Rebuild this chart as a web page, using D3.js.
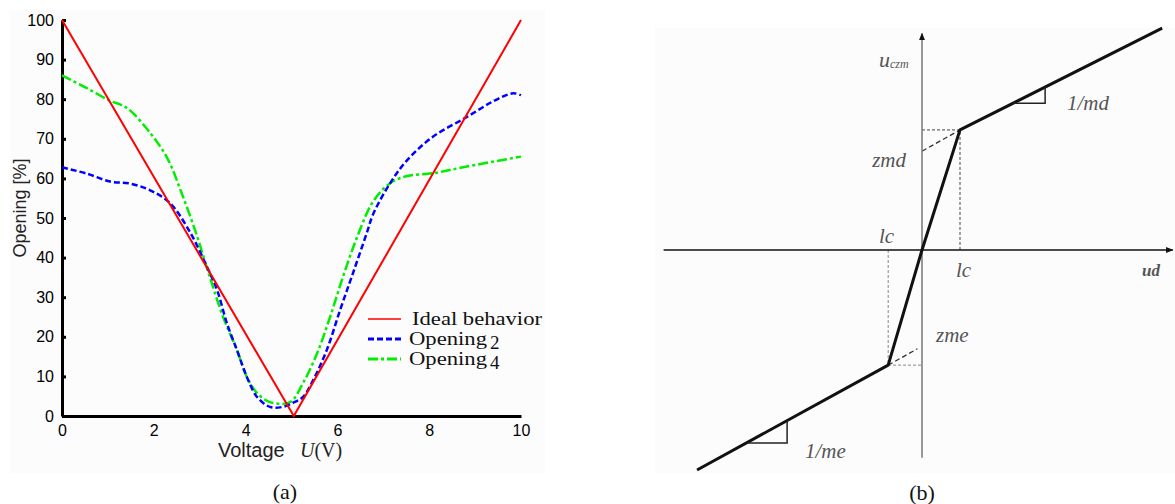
<!DOCTYPE html>
<html>
<head>
<meta charset="utf-8">
<script src="https://cdn.jsdelivr.net/npm/d3@7"></script>
<style>
  body { margin: 0; background: #fff; }
  svg { display: block; }
  .diag text { font-family: "Liberation Serif", "Times New Roman", serif; font-style: italic; fill: #555; }
</style>
</head>
<body>
<script>
// ---- panel (a) data ----
var xTicks = [0, 2, 4, 6, 8, 10];
var yTicks = [0, 10, 20, 30, 40, 50, 60, 70, 80, 90, 100];
var seriesNames = ["Ideal behavior", "Opening", "Opening"];
var seriesSubs = ["", "2", "4"];

var ideal = [[0, 100], [5.05, 0], [10, 100]];

var opening2 = [[0, 62.8], [0.54, 61.2], [1.05, 59.2], [1.48, 58.7], [1.92, 57], [2.35, 53.8],
  [2.79, 46.4], [3.16, 37.6], [3.38, 31.8], [3.59, 23.5], [3.81, 16.7], [4.03, 9.8],
  [4.25, 4.8], [4.53, 2.3], [4.81, 2.3], [5.03, 3.3], [5.25, 4.8], [5.47, 9], [5.77, 16.7],
  [6.06, 26.8], [6.34, 36.1], [6.64, 46.2], [6.78, 51], [7.15, 58.8], [7.52, 64.6],
  [8.08, 70.5], [8.82, 75.5], [9.4, 79.5], [9.83, 81.5], [10, 81]];

var opening4 = [[0, 86], [0.54, 82.8], [1.05, 79.6], [1.3, 78.5], [1.5, 77], [1.92, 71.5],
  [2.29, 65.2], [2.6, 56.5], [2.94, 45.5], [3.22, 35.1], [3.51, 25], [3.81, 16.7], [4.03, 9.8],
  [4.25, 5.8], [4.53, 3.5], [4.97, 3.5], [5.25, 8.3], [5.56, 15.9], [5.84, 25], [6.12, 35.1],
  [6.43, 45.2], [6.78, 54.2], [7.15, 58.8], [7.52, 60.6], [8.08, 61.3], [8.82, 63], [10, 65.5]];

// ---- panel (b) schematic (units: lc = 1) ----
var lawPoints = [[-5.92, -5.79], [-0.89, -3.03], [0, 0], [1, 3.16], [6.32, 5.84]];
var zmd = 2.6, zme = -2.6;
var triUp = [[2.39, 3.86], [3.24, 3.86], [3.24, 4.29]];
var triDown = [[-4.62, -5.08], [-3.55, -5.08], [-3.55, -4.49]];

var width = 1175, height = 504;

var svg = d3.select("body").append("svg")
  .attr("width", width)
  .attr("height", height);

// faint panel background like the scanned figure
svg.append("rect").attr("x", 10).attr("y", 10).attr("width", 535).attr("height", 463)
  .attr("fill", "#fcfcfc");
svg.append("rect").attr("x", 655).attr("y", 28).attr("width", 520).attr("height", 445)
  .attr("fill", "#fcfcfc");

// ================= panel (a) =================
var x = d3.scaleLinear().domain([0, 10]).range([62, 521]);
var y = d3.scaleLinear().domain([0, 100]).range([416, 20]);

var gx = svg.append("g")
  .attr("transform", "translate(0," + y(0) + ")")
  .call(d3.axisBottom(x).tickValues(xTicks).tickSize(0).tickPadding(9));
gx.select(".domain").attr("stroke", "#000").attr("stroke-width", 3);

var gy = svg.append("g")
  .attr("transform", "translate(" + x(0) + ",0)")
  .call(d3.axisLeft(y).tickValues(yTicks).tickSizeInner(-4).tickSizeOuter(0).tickPadding(8));
gy.select(".domain").attr("stroke", "#000").attr("stroke-width", 3);
gy.selectAll(".tick line").attr("stroke", "#000").attr("stroke-width", 3);

[gx, gy].forEach(function(g) {
  g.selectAll(".tick text")
    .style("font-family", "'Liberation Sans', Arial, sans-serif")
    .style("font-size", "16px")
    .attr("fill", "#000");
});

var line = d3.line()
  .x(function(d) { return x(d[0]); })
  .y(function(d) { return y(d[1]); });
var smooth = d3.line()
  .curve(d3.curveCatmullRom.alpha(0.5))
  .x(function(d) { return x(d[0]); })
  .y(function(d) { return y(d[1]); });

svg.append("path").datum(opening4)
  .attr("d", smooth).attr("fill", "none")
  .attr("stroke", "#00ee00").attr("stroke-width", 2.5)
  .attr("stroke-dasharray", "10,3,3,3");

svg.append("path").datum(opening2)
  .attr("d", smooth).attr("fill", "none")
  .attr("stroke", "#0000ff").attr("stroke-width", 2.5)
  .attr("stroke-dasharray", "6,3");

svg.append("path").datum(ideal)
  .attr("d", line).attr("fill", "none")
  .attr("stroke", "#ff0000").attr("stroke-width", 2);

// axis titles
var xt = svg.append("text")
  .attr("x", 218).attr("y", 457)
  .attr("font-family", "Liberation Sans, Arial, sans-serif")
  .attr("font-size", 20).attr("fill", "#222");
xt.append("tspan").text("Voltage");
xt.append("tspan").attr("font-family", "Liberation Serif, serif").attr("font-style", "italic")
  .attr("x", 300).text("U");
xt.append("tspan").attr("font-family", "Liberation Serif, serif").text("(V)");

svg.append("text")
  .attr("transform", "translate(26,208) rotate(-90)")
  .attr("text-anchor", "middle")
  .attr("font-family", "Liberation Sans, Arial, sans-serif")
  .attr("font-size", 18).attr("fill", "#222")
  .text("Opening [%]");

// legend
var legColors = ["#ff0000", "#0000ff", "#00ee00"];
var legDash = [null, "6,3", "10,3,3,3"];
var legLen = [130, 78, 78];
var leg = svg.append("g").attr("transform", "translate(368,319)");
seriesNames.forEach(function(name, i) {
  var row = leg.append("g").attr("transform", "translate(0," + (i * 20) + ")");
  row.append("line").attr("x1", 0).attr("x2", 33).attr("y1", 0).attr("y2", 0)
    .attr("stroke", legColors[i]).attr("stroke-width", i === 0 ? 1.5 : 3)
    .attr("stroke-dasharray", legDash[i]);
  var t = row.append("text").attr("x", i === 0 ? 44 : 41).attr("y", 6)
    .attr("font-family", "Liberation Serif, serif").attr("font-size", 19).attr("fill", "#111");
  t.append("tspan").attr("textLength", legLen[i]).attr("lengthAdjust", "spacingAndGlyphs").text(name);
  if (seriesSubs[i]) {
    t.append("tspan").attr("dx", 3).attr("dy", 4).attr("font-size", 19).text(seriesSubs[i]);
  }
});

svg.append("text").attr("x", 285).attr("y", 499)
  .attr("text-anchor", "middle")
  .attr("font-family", "Liberation Serif, Times New Roman, serif")
  .attr("font-size", 22).attr("fill", "#111")
  .text("(a)");

// ================= panel (b) =================
var xb = d3.scaleLinear().domain([0, 1]).range([922, 960]);
var yb = d3.scaleLinear().domain([0, 1]).range([250, 212]);
var lineB = d3.line()
  .x(function(d) { return xb(d[0]); })
  .y(function(d) { return yb(d[1]); });

var diag = svg.append("g").attr("class", "diag");

// dotted guides
var upKnee = lawPoints[3], loKnee = lawPoints[1];
diag.append("path").datum([[0, upKnee[1]], upKnee, [upKnee[0], 0]])
  .attr("d", lineB).attr("fill", "none").attr("stroke", "#444")
  .attr("stroke-width", 1).attr("stroke-dasharray", "3,2");
diag.append("path").datum([[loKnee[0], 0], loKnee, [0, loKnee[1]]])
  .attr("d", lineB).attr("fill", "none").attr("stroke", "#888")
  .attr("stroke-width", 1).attr("stroke-dasharray", "3,2");
// dashed slope extensions
diag.append("path").datum([[0, zmd], upKnee])
  .attr("d", lineB).attr("fill", "none").attr("stroke", "#333")
  .attr("stroke-width", 1.3).attr("stroke-dasharray", "5,3");
diag.append("path").datum([loKnee, [-0.12, zme]])
  .attr("d", lineB).attr("fill", "none").attr("stroke", "#333")
  .attr("stroke-width", 1.3).attr("stroke-dasharray", "5,3");

// axes
var defs = svg.append("defs");
defs.append("marker").attr("id", "arr").attr("viewBox", "0 0 10 10")
  .attr("refX", 9).attr("refY", 5).attr("markerWidth", 5).attr("markerHeight", 5)
  .attr("orient", "auto")
  .append("path").attr("d", "M0,1L10,5L0,9Z").attr("fill", "#111");

diag.append("path").datum([[-6.8, 0], [6.6, 0]])
  .attr("d", lineB).attr("stroke", "#111").attr("stroke-width", 1.5)
  .attr("marker-end", "url(#arr)");
diag.append("path").datum([[0, -5.47], [0, 5.7]])
  .attr("d", lineB).attr("stroke", "#777").attr("stroke-width", 1.5)
  .attr("marker-end", "url(#arr)");

// constitutive law
diag.append("path").datum(lawPoints)
  .attr("d", lineB).attr("fill", "none")
  .attr("stroke", "#111").attr("stroke-width", 3).attr("stroke-linejoin", "round");

// slope triangles
[triUp, triDown].forEach(function(tri) {
  diag.append("path").datum(tri)
    .attr("d", lineB).attr("fill", "none")
    .attr("stroke", "#222").attr("stroke-width", 1.5);
});

// labels
var lab = function(txt, px, py, size, anchor) {
  return diag.append("text").attr("x", px).attr("y", py)
    .attr("font-size", size).attr("text-anchor", anchor || "start").text(txt);
};
var uc = lab("u", 879, 67, 22);
uc.append("tspan").attr("font-size", 12).attr("dy", 1).text("czm");
lab("zmd", 906, 167, 21, "end");
lab("lc", 879, 243, 21);
lab("lc", 956, 277, 21);
lab("zme", 936, 342, 21);
lab("1/md", 1067, 110, 21);
lab("1/me", 805, 458, 21);
lab("ud", 1142, 276, 17).attr("font-weight", "bold").attr("fill", "#222");

svg.append("text").attr("x", 922).attr("y", 500)
  .attr("text-anchor", "middle")
  .attr("font-family", "Liberation Serif, Times New Roman, serif")
  .attr("font-size", 22).attr("fill", "#111")
  .text("(b)");
</script>
</body>
</html>
